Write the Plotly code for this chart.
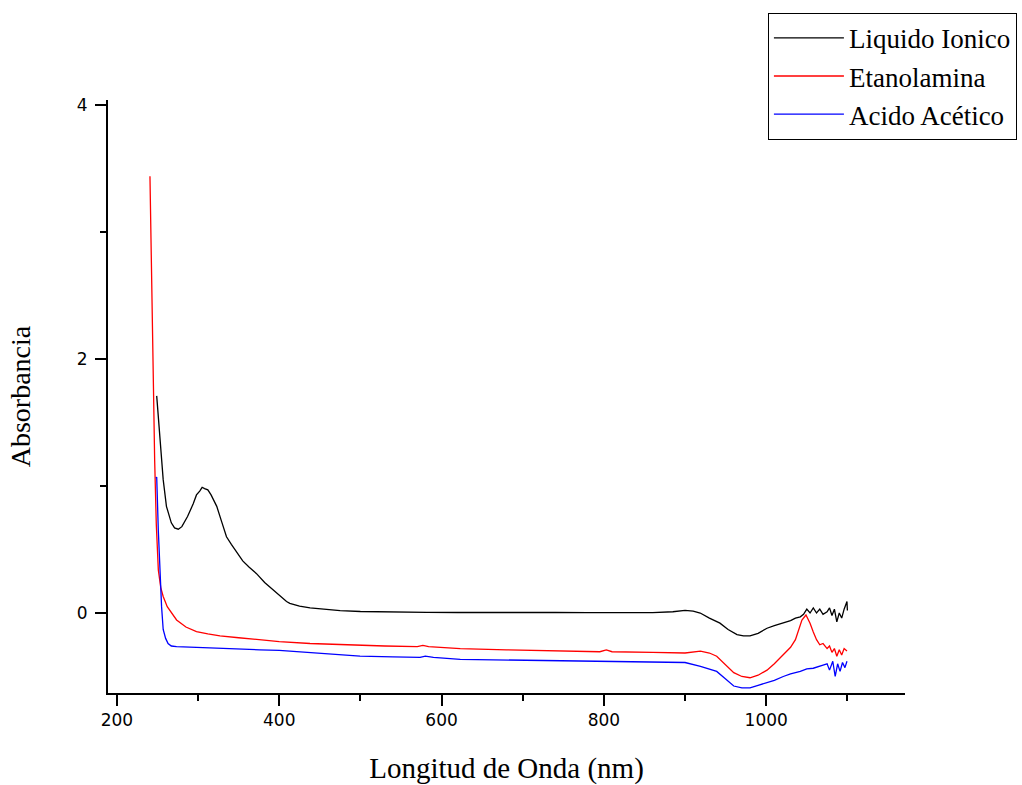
import plotly.graph_objects as go

# ---- data ----
x_li = [249, 253, 257, 261, 267, 271, 275.6, 280, 287, 294, 298, 302, 305, 308, 312, 316, 323, 329, 335, 341, 347.5, 355, 363, 372, 382, 393, 401, 409, 413, 425, 438, 455, 475, 500, 530, 560, 582, 620, 660, 700, 740, 780, 820, 860, 885, 900, 910, 918.7, 930, 943, 953, 964, 972, 980, 990, 1001, 1010, 1021, 1030, 1036, 1042, 1046, 1050, 1054, 1058, 1062, 1066, 1070, 1075, 1078, 1081, 1084, 1087, 1090, 1093, 1096, 1099.5, 1100]
y_li = [1.71, 1.35, 1.05, 0.84, 0.71, 0.67, 0.66, 0.68, 0.76, 0.86, 0.93, 0.96, 0.99, 0.98, 0.97, 0.93, 0.84, 0.72, 0.60, 0.54, 0.48, 0.41, 0.36, 0.31, 0.24, 0.18, 0.13, 0.09, 0.076, 0.055, 0.04, 0.028, 0.018, 0.012, 0.008, 0.006, 0.005, 0.004, 0.006, 0.005, 0.004, 0.003, 0.004, 0.003, 0.01, 0.02, 0.015, 0.0, -0.04, -0.08, -0.13, -0.17, -0.18, -0.18, -0.16, -0.12, -0.10, -0.08, -0.06, -0.04, -0.03, -0.01, 0.03, 0.0, 0.04, 0.0, 0.03, -0.01, 0.01, 0.04, -0.02, 0.03, -0.07, 0.0, -0.04, 0.03, 0.09, 0.02]

x_et = [240.7, 242, 243.5, 244.7, 246.5, 248.5, 251, 254, 257, 262, 267, 273.5, 285, 298, 312, 327, 350, 372, 400, 438, 480, 530, 570, 577, 584, 623, 680, 740, 795, 803, 810, 860, 900, 919, 930, 939, 950, 960, 970, 980, 990, 1001, 1010, 1021, 1030, 1036, 1040, 1044, 1049, 1054, 1058, 1062, 1066, 1070, 1075, 1078, 1081, 1084, 1087, 1090, 1093, 1096, 1099.5]
y_et = [3.44, 2.9, 2.3, 1.83, 1.2, 0.7, 0.34, 0.2, 0.13, 0.05, 0.0, -0.055, -0.11, -0.147, -0.165, -0.18, -0.195, -0.21, -0.225, -0.24, -0.25, -0.26, -0.265, -0.255, -0.265, -0.28, -0.29, -0.3, -0.305, -0.29, -0.305, -0.31, -0.315, -0.30, -0.315, -0.34, -0.41, -0.47, -0.5, -0.51, -0.49, -0.45, -0.40, -0.33, -0.27, -0.21, -0.14, -0.055, -0.016, -0.08, -0.15, -0.21, -0.25, -0.24, -0.28, -0.26, -0.31, -0.28, -0.34, -0.29, -0.33, -0.28, -0.30]

x_ac = [248, 249, 251, 253, 255, 257, 260, 263, 267, 273.5, 300, 339, 376, 400, 438, 499.5, 540, 573.5, 580, 590, 623, 680, 740, 800, 850, 900, 919, 930, 939, 950, 960, 970, 980, 990, 1001, 1010, 1021, 1030, 1042, 1050, 1058, 1064, 1070, 1075, 1078, 1082, 1085, 1088, 1091, 1094, 1097, 1099.5]
y_ac = [1.06, 1.07, 0.65, 0.31, 0.05, -0.13, -0.2, -0.24, -0.26, -0.265, -0.27, -0.28, -0.29, -0.295, -0.31, -0.34, -0.345, -0.35, -0.34, -0.35, -0.365, -0.37, -0.375, -0.385, -0.39, -0.39, -0.42, -0.44, -0.46, -0.52, -0.575, -0.59, -0.59, -0.57, -0.55, -0.53, -0.50, -0.48, -0.46, -0.44, -0.435, -0.42, -0.41, -0.40, -0.45, -0.38, -0.50, -0.40, -0.46, -0.39, -0.43, -0.38]

names = ["Liquido Ionico", "Etanolamina", "Acido Acético"]
colors = ["#000000", "#FF0000", "#0000FF"]

fig = go.Figure()
for xs, ys, nm, c in zip([x_li, x_et, x_ac], [y_li, y_et, y_ac], names, colors):
    fig.add_trace(go.Scatter(x=xs, y=ys, mode="lines", name=nm,
                             line=dict(color=c, width=1.3)))

serif = "Liberation Serif, Times New Roman, serif"
sans = "DejaVu Sans, Verdana, sans-serif"

fig.update_layout(
    width=1022, height=785,
    margin=dict(l=108, r=117, t=100, b=92, autoexpand=False),
    plot_bgcolor="white", paper_bgcolor="white",
    showlegend=True,
    legend=dict(x=0.828, y=1.147, xanchor="left", yanchor="top",
                bordercolor="black", borderwidth=1, bgcolor="white",
                font=dict(family=serif, size=27, color="black"),
                itemwidth=70, tracegroupgap=0),
    xaxis=dict(range=[189, 1171], showgrid=False, zeroline=False, automargin=False,
               showline=True, linecolor="black", linewidth=2,
               ticks="outside", ticklen=11, tickwidth=2, tickcolor="black",
               tick0=200, dtick=200,
               minor=dict(dtick=100, tick0=200, ticks="outside", ticklen=6, tickwidth=2, tickcolor="black"),
               tickfont=dict(family=sans, size=17, color="black"),
               title=dict(text="Longitud de Onda (nm)", font=dict(family=serif, size=29, color="black"), standoff=30)),
    yaxis=dict(range=[-0.63, 4.04], showgrid=False, zeroline=False, automargin=False,
               showline=True, linecolor="black", linewidth=2,
               ticks="outside", ticklen=11, tickwidth=2, tickcolor="black",
               tick0=0, dtick=2, ticklabelstandoff=4,
               minor=dict(dtick=1, tick0=0, ticks="outside", ticklen=6, tickwidth=2, tickcolor="black"),
               tickfont=dict(family=sans, size=17, color="black"),
               title=dict(text="Absorbancia", font=dict(family=serif, size=28, color="black"), standoff=38)),
)

fig.write_html("out.html")
